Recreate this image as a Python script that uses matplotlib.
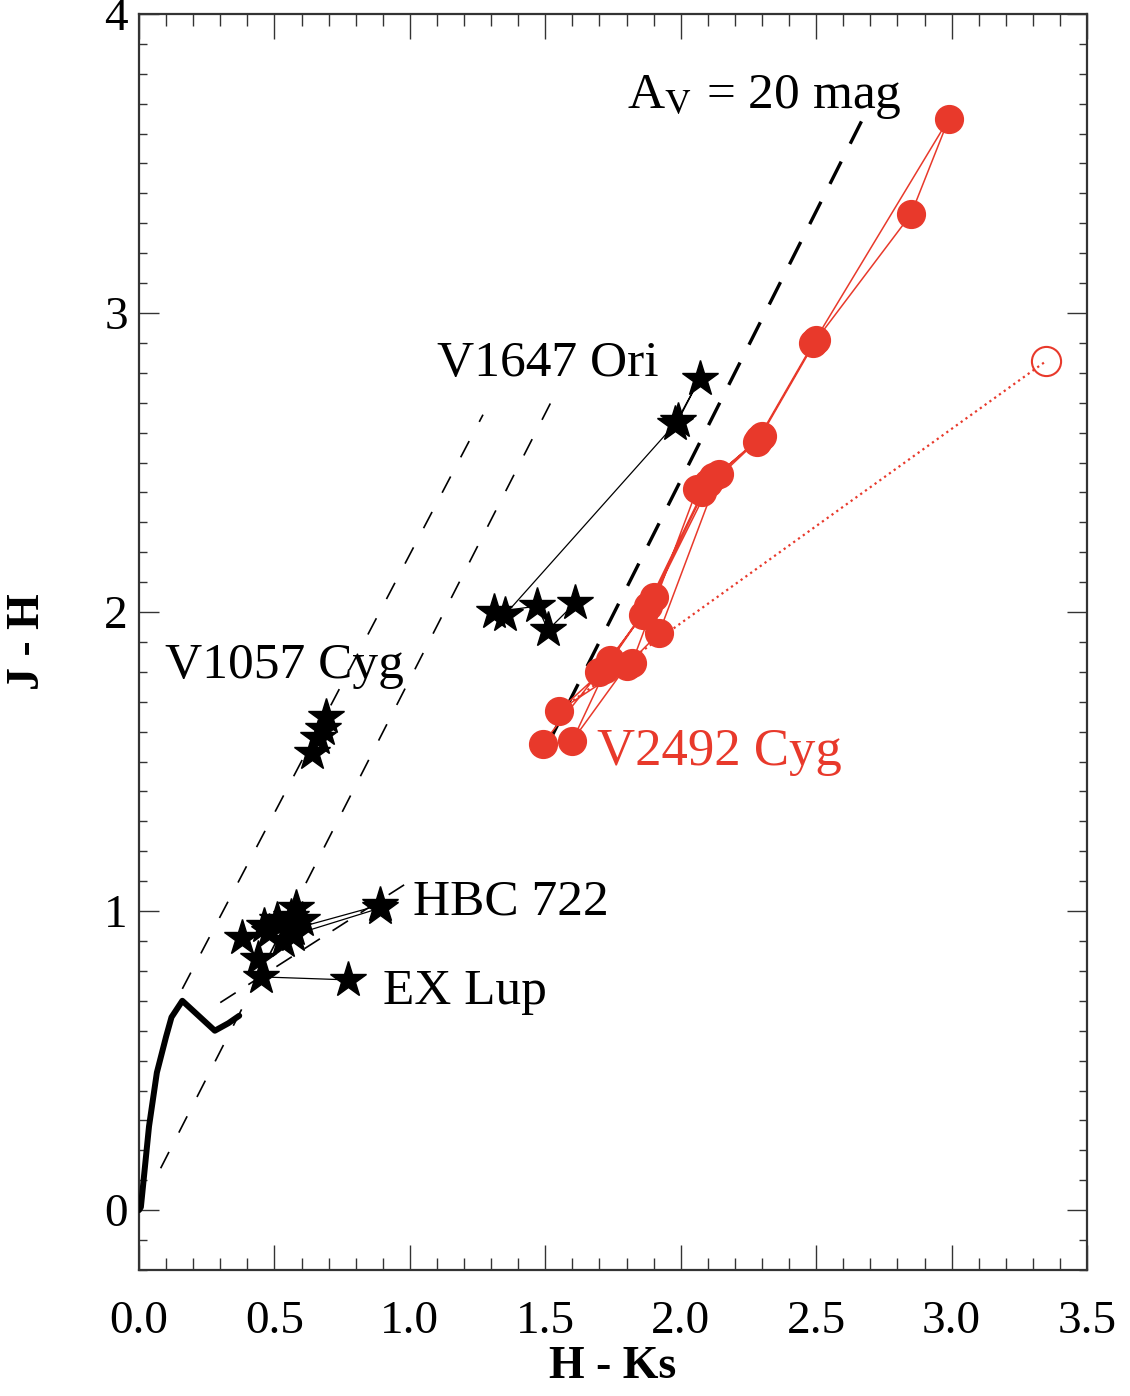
'''
Near-infrared colour-colour diagram (J-H vs H-Ks) of FUor/EXor objects
'''

import matplotlib
matplotlib.use('Agg')
import matplotlib.pyplot as plt
from matplotlib.ticker import MultipleLocator, FormatStrFormatter

#Fonts: Times-like serif everywhere
plt.rcParams['font.family'] = ['Liberation Serif', 'DejaVu Serif']
plt.rcParams['mathtext.fontset'] = 'stix'

red = '#e8392b'

#Main-sequence locus (thick black curve)
dwarf_hk = [0.0, 0.007, 0.037, 0.066, 0.10, 0.12, 0.16, 0.22, 0.28, 0.33, 0.37]
dwarf_jh = [0.0, 0.01, 0.28, 0.46, 0.58, 0.645, 0.70, 0.65, 0.60, 0.625, 0.65]

#Reddening vectors (start, end) and CTTS locus
redden_thin = [((0.16, 0.74), (1.27, 2.66)),
               ((0.08, 0.14), (1.52, 2.70))]
redden_av20 = ((1.505, 1.55), (2.70, 3.70))
ctts_hk = [0.30, 1.00]
ctts_jh = [0.694, 1.10]

#Black stars
v1647_hk = [1.61, 1.51, 1.47, 1.31, 1.35, 1.98, 2.07, 1.99]
v1647_jh = [2.03, 1.94, 2.02, 2.00, 1.99, 2.63, 2.78, 2.64]

v1057_hk = [0.69, 0.68, 0.66, 0.64]
v1057_jh = [1.65, 1.61, 1.58, 1.53]

hbc722_hk = [0.89, 0.57, 0.38, 0.44, 0.46, 0.48, 0.51, 0.53, 0.55, 0.56, 0.58, 0.60, 0.57, 0.89]
hbc722_jh = [1.02, 0.94, 0.91, 0.84, 0.95, 0.93, 0.97, 0.90, 0.94, 0.98, 1.01, 0.97, 0.92, 1.01]

exlup_hk = [0.45, 0.77]
exlup_jh = [0.78, 0.77]

#V2492 Cyg epochs (red filled circles)
v2492_hk = [1.49, 1.70, 1.86, 2.08, 2.29, 2.50, 2.85, 2.99, 2.49, 2.28,
            2.12, 1.90, 1.74, 1.60, 1.80, 1.92, 2.14, 2.06, 1.82, 1.55,
            1.72, 1.88, 2.10, 2.30]
v2492_jh = [1.56, 1.80, 1.99, 2.40, 2.58, 2.91, 3.33, 3.65, 2.90, 2.57,
            2.45, 2.05, 1.84, 1.57, 1.82, 1.93, 2.46, 2.41, 1.83, 1.67,
            1.81, 2.02, 2.43, 2.59]
#Open circle epoch joined by dotted line
v2492_open_hk = [1.55, 3.35]
v2492_open_jh = [1.67, 2.84]


def main():
    fig = plt.figure(figsize=(11.3, 13.96), dpi=100)
    ax = fig.add_axes([0.123, 0.0903, 0.839, 0.8997])

    #Loci and reddening lines
    ax.plot(dwarf_hk, dwarf_jh, '-', color='black', lw=4.3, solid_capstyle='round',
            solid_joinstyle='round', zorder=3)
    for (x0, y0), (x1, y1) in redden_thin:
        ax.plot([x0, x1], [y0, y1], color='black', lw=1.2, dashes=(11, 13), zorder=2)
    (x0, y0), (x1, y1) = redden_av20
    ax.plot([x0, x1], [y0, y1], color='black', lw=2.4, dashes=(7.5, 6), zorder=2)
    ax.plot(ctts_hk, ctts_jh, color='black', lw=1.2, dashes=(11, 9), zorder=2)

    #Black star objects
    for hk, jh in [(v1647_hk, v1647_jh), (v1057_hk, v1057_jh),
                   (hbc722_hk, hbc722_jh), (exlup_hk, exlup_jh)]:
        ax.plot(hk, jh, '-', color='black', lw=0.9, zorder=4)
        ax.plot(hk, jh, '*', color='black', ms=27, mec='black', zorder=5)

    #V2492 Cyg
    ax.plot(v2492_open_hk, v2492_open_jh, ':', color=red, lw=1.6, zorder=4)
    ax.plot(v2492_open_hk[1], v2492_open_jh[1], 'o', ms=21, mfc='none', mec=red, mew=1.5, zorder=5)
    ax.plot(v2492_hk, v2492_jh, '-', color=red, lw=1.1, zorder=4)
    ax.plot(v2492_hk, v2492_jh, 'o', color=red, ms=20, zorder=5)

    #Labels on the objects
    ax.text(1.80, 3.685, r'A$_\mathrm{V}$ = 20 mag', fontsize=37, va='baseline', ha='left')
    ax.text(1.10, 2.79, 'V1647 Ori', fontsize=37, va='baseline', ha='left')
    ax.text(0.096, 1.78, 'V1057 Cyg', fontsize=37, va='baseline', ha='left')
    ax.text(1.01, 0.99, 'HBC 722', fontsize=37, va='baseline', ha='left')
    ax.text(0.90, 0.69, 'EX Lup', fontsize=37, va='baseline', ha='left')
    ax.text(1.69, 1.49, 'V2492 Cyg', fontsize=38, va='baseline', ha='left', color=red)

    #Axes
    ax.set_xlim(0.0, 3.5)
    ax.set_ylim(-0.2, 4.0)
    ax.xaxis.set_major_locator(MultipleLocator(0.5))
    ax.xaxis.set_minor_locator(MultipleLocator(0.1))
    ax.yaxis.set_major_locator(MultipleLocator(1.0))
    ax.yaxis.set_minor_locator(MultipleLocator(0.1))
    ax.xaxis.set_major_formatter(FormatStrFormatter('%.1f'))
    ax.yaxis.set_major_formatter(FormatStrFormatter('%d'))
    ax.tick_params(which='both', direction='in', top=True, right=True,
                   width=1.0, color='#333333', labelsize=34)
    ax.tick_params(axis='x', which='major', length=18, pad=22)
    ax.tick_params(axis='x', which='minor', length=8.6)
    ax.tick_params(axis='y', which='major', length=14.4, pad=8)
    ax.tick_params(axis='y', which='minor', length=5.8)
    for sp in ax.spines.values():
        sp.set_linewidth(1.6)
        sp.set_color('#333333')

    ax.set_xlabel('H - Ks', fontsize=33, fontweight='bold', labelpad=2)
    ax.set_ylabel('J - H', fontsize=33, fontweight='bold', labelpad=40)

    plt.savefig('out.png', dpi=100)


if __name__ == '__main__':
    main()
